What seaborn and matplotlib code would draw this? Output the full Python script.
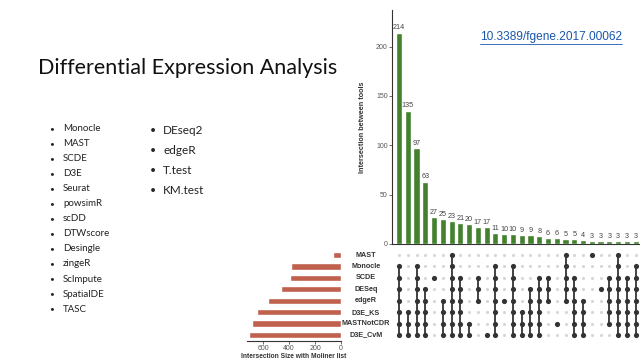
import matplotlib

matplotlib.use("Agg")
import matplotlib.pyplot as plt
import matplotlib.transforms as mtransforms
import numpy as np
import pandas as pd
import seaborn as sns
from matplotlib.lines import Line2D

# --- data ----------------------------------------------------------------
title = "Differential Expression Analysis"
doi_text = "10.3389/fgene.2017.00062"
tools_left = ["Monocle", "MAST", "SCDE", "D3E", "Seurat", "powsimR", "scDD",
              "DTWscore", "Desingle", "zingeR", "ScImpute", "SpatialDE", "TASC"]
tools_right = ["DEseq2", "edgeR", "T.test", "KM.test"]

set_names = ["MAST", "Monocle", "SCDE", "DESeq", "edgeR",
             "D3E_KS", "MASTNotCDR", "D3E_CvM"]
set_sizes = [60, 385, 395, 460, 562, 646, 686, 708]

inter_sizes = [214, 135, 97, 63, 27, 25, 23, 21, 20, 17, 17, 11, 10, 10,
               9, 9, 8, 6, 6, 5, 5, 4, 3, 3, 3, 3, 3, 3]
# members of each intersection, as row indices into set_names
inter_members = [
    [1, 2, 3, 4, 5, 6, 7], [5, 6, 7], [1, 2, 3, 4, 5, 6, 7], [3, 4, 5, 6, 7],
    [2], [4, 5, 6, 7], [0, 1, 2, 3, 4, 5, 6, 7], [2, 3, 4, 5, 6, 7],
    [6, 7], [2, 3, 4], [7], [1, 2, 3, 4, 5, 6, 7], [4],
    [1, 2, 3, 4, 5, 6, 7], [5, 6, 7], [3, 4, 5, 6, 7], [2, 3, 4, 5, 6, 7],
    [2, 3, 4], [6], [0, 1, 2, 3, 4], [2, 3, 4, 5, 6, 7], [4, 5, 6, 7],
    [0], [3], [2, 3, 4, 5, 6], [0, 1, 2, 3, 4, 5, 6, 7],
    [2, 3, 4, 5, 6, 7], [1, 2, 3, 4, 5, 6, 7],
]

GREEN = "#43812d"
RED = "#c0614d"
W, H = 640, 360


def px_rect(x0, y0, x1, y1):
    """Axes rect from pixel box measured from the top-left corner."""
    return [x0 / W, 1 - y1 / H, (x1 - x0) / W, (y1 - y0) / H]


sns.set_theme(style="white")
plt.rcParams["font.family"] = ["Liberation Sans", "DejaVu Sans"]

fig = plt.figure(figsize=(W / 100, H / 100), dpi=100)
fig.patch.set_facecolor("white")

# --- slide text -------------------------------------------------------------
fig.text(38 / W, 1 - 68 / H, title, family="Lato", fontsize=15.5,
         color="#111111", ha="left", va="center")

for i, name in enumerate(tools_left):
    y = 1 - (128.5 + i * 15.05) / H
    fig.text(52 / W, y, "•", family="Lato", fontsize=6, ha="center", va="center")
    fig.text(63 / W, y, name, family="Lato", fontsize=7, color="#222222",
             ha="left", va="center")

for i, name in enumerate(tools_right):
    y = 1 - (131 + i * 19.7) / H
    fig.text(153 / W, y, "•", family="Lato", fontsize=7.5, ha="center", va="center")
    fig.text(163 / W, y, name, family="Lato", fontsize=8.5, color="#222222",
             ha="left", va="center")

link = fig.text(480 / W, 1 - 37 / H, doi_text, fontsize=8.6, color="#1a56b0",
                ha="left", va="center")

# --- intersection size bars ---------------------------------------------------
ax_bar = fig.add_axes(px_rect(392, 10, 640, 244))
df_bar = pd.DataFrame({"idx": np.arange(len(inter_sizes)), "size": inter_sizes})
sns.barplot(data=df_bar, x="idx", y="size", color=GREEN, saturation=1,
            width=0.7, ax=ax_bar)
ax_bar.bar_label(ax_bar.containers[0], fontsize=5.2, color="#444444", padding=1)
ax_bar.set_xlim(-0.8, 27.5)
ax_bar.set_ylim(0, 237)
ax_bar.set_yticks([0, 50, 100, 150, 200])
ax_bar.set_xticks([])
ax_bar.set_xlabel("")
ax_bar.set_ylabel("Intersection between tools", fontsize=5.2, fontweight="bold",
                  color="#333333")
ax_bar.yaxis.set_label_coords(-0.105, 0.5)
ax_bar.tick_params(axis="y", labelsize=5, colors="#555555", length=2, width=0.6,
                   pad=1, left=True)
for side in ["top", "right"]:
    ax_bar.spines[side].set_visible(False)
for side in ["left", "bottom"]:
    ax_bar.spines[side].set_color("#333333")
    ax_bar.spines[side].set_linewidth(0.8)

# --- membership matrix --------------------------------------------------------
ax_mat = fig.add_axes(px_rect(392, 249.3, 640, 340.7))
rows = []
for col, members in enumerate(inter_members):
    for r in range(len(set_names)):
        rows.append({"col": col, "row": r, "member": r in members})
df_mat = pd.DataFrame(rows)
sns.scatterplot(data=df_mat[~df_mat["member"]], x="col", y="row", color="#d6d6d6",
                s=5, linewidth=0, ax=ax_mat)
for col, members in enumerate(inter_members):
    if len(members) > 1:
        ax_mat.vlines(col, min(members), max(members), color="#333333",
                      linewidth=1.3)
sns.scatterplot(data=df_mat[df_mat["member"]], x="col", y="row", color="#333333",
                s=14, linewidth=0, ax=ax_mat)
ax_mat.set_xlim(-0.8, 27.5)
ax_mat.set_ylim(len(set_names) - 0.5, -0.5)
ax_mat.set_axis_off()

label_tf = mtransforms.blended_transform_factory(fig.transFigure, ax_mat.transData)
for r, name in enumerate(set_names):
    ax_mat.text(366 / W, r, name, transform=label_tf, fontsize=5.2,
                fontweight="bold", color="#333333", ha="center", va="center")

# --- set size bars ------------------------------------------------------------
ax_set = fig.add_axes(px_rect(247, 249.3, 341, 340.7))
df_set = pd.DataFrame({"name": set_names, "size": set_sizes})
sns.barplot(data=df_set, x="size", y="name", orient="h", color=RED,
            saturation=1, width=0.55, ax=ax_set)
ax_set.set_xlim(723, 0)
ax_set.set_ylim(len(set_names) - 0.5, -0.5)
ax_set.set_xticks([0, 200, 400, 600])
ax_set.set_yticks([])
ax_set.set_ylabel("")
ax_set.set_xlabel("Intersection Size with Moliner list", fontsize=4.8,
                  fontweight="bold", color="#333333", labelpad=1)
ax_set.tick_params(axis="x", labelsize=5, colors="#555555", length=2,
                   width=0.6, pad=1, bottom=True)
for side in ["top", "right", "left"]:
    ax_set.spines[side].set_visible(False)
ax_set.spines["bottom"].set_color("#333333")
ax_set.spines["bottom"].set_linewidth(0.8)

# underline the doi link
renderer = fig.canvas.get_renderer()
bb = link.get_window_extent(renderer)
fig.add_artist(Line2D([bb.x0 / W, bb.x1 / W], [(bb.y0 - 0.5) / H] * 2,
                      color="#1a56b0", linewidth=0.6))

fig.savefig("out.png", dpi=100)
plt.close(fig)
